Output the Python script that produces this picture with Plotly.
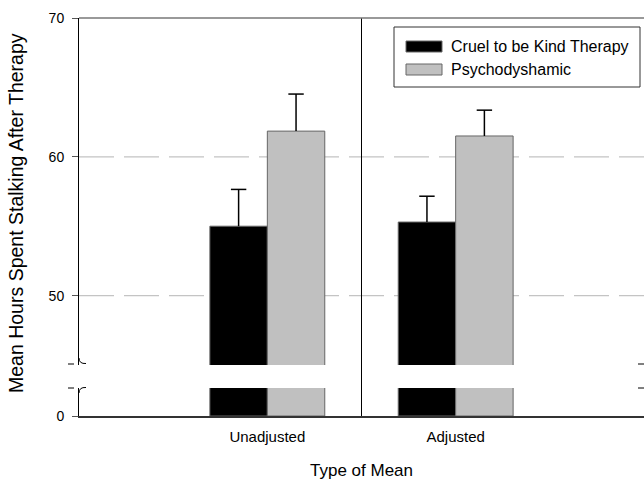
import plotly.graph_objects as go

# Data
categories = ["Unadjusted", "Adjusted"]
series_names = ["Cruel to be Kind Therapy", "Psychodyshamic"]
means_cruel = [55.0, 55.3]
means_psycho = [61.85, 61.5]
se_cruel = [2.65, 1.86]
se_psycho = [2.67, 1.86]
upper_ticks = [50, 60, 70]
lower_ticks = [0]

FILLS = ["#000000", "#c0c0c0"]
EDGES = ["#666666", "#666666"]
FONT = "Liberation Sans, Arial, sans-serif"
BAR_W = 0.305

# Canvas geometry (pixels)
W, H = 644, 484
L, R, T, B = 79, 0, 18, 68
PW, PH = W - L - R, H - T - B


def px(x):
    return (x - L) / PW


def py(y):
    return (H - B - y) / PH


LOWER_DOMAIN = [0, py(388)]
UPPER_DOMAIN = [py(365), 1]

xpos = list(range(len(categories)))
offsets = [-BAR_W, 0.0]

fig = go.Figure()
series = [(means_cruel, se_cruel), (means_psycho, se_psycho)]
for i, (name, (m, se)) in enumerate(zip(series_names, series)):
    for yax in ["y2", "y"]:
        fig.add_trace(go.Bar(
            x=xpos, y=m, name=name, xaxis="x", yaxis=yax,
            width=BAR_W, offset=offsets[i], showlegend=False,
            marker=dict(color=FILLS[i], line=dict(color=EDGES[i], width=1)),
        ))
    # upward-only error bars: stem plus cap
    centers = [p + offsets[i] + BAR_W / 2 for p in xpos]
    sx, sy = [], []
    for c, mv, ev in zip(centers, m, se):
        sx += [c, c, None]
        sy += [mv, mv + ev, None]
    fig.add_trace(go.Scatter(
        x=sx, y=sy, mode="lines", xaxis="x", yaxis="y2", showlegend=False,
        line=dict(color="#000000", width=1.5), hoverinfo="skip",
    ))
    fig.add_trace(go.Scatter(
        x=centers, y=[mv + ev for mv, ev in zip(m, se)], mode="markers",
        xaxis="x", yaxis="y2", showlegend=False, hoverinfo="skip",
        marker=dict(symbol="line-ew-open", size=11, color="#000000",
                    line=dict(color="#000000", width=1.5)),
    ))

shapes = []
# dashed reference lines in the upper panel
for v in [50, 60]:
    shapes.append(dict(type="line", xref="paper", yref="y2", x0=0, x1=1, y0=v, y1=v,
                       line=dict(color="#c4c4c4", width=1.2, dash="35px,10px"),
                       layer="below"))
# divider between the two groups
shapes.append(dict(type="line", xref="x", yref="paper", x0=0.5, x1=0.5, y0=0, y1=1,
                   line=dict(color="#000000", width=1)))
# top frame line
shapes.append(dict(type="line", xref="paper", yref="paper", x0=0, x1=1, y0=1, y1=1,
                   line=dict(color="#777777", width=1.5)))
# axis-break marks on the left axis
shapes.append(dict(type="path", xref="paper", yref="paper",
                   path=f"M {px(79)},{py(358)} Q {px(79)},{py(364)} {px(86)},{py(363.5)}",
                   line=dict(color="#000000", width=1)))
shapes.append(dict(type="path", xref="paper", yref="paper",
                   path=f"M {px(86)},{py(387.5)} Q {px(79)},{py(387)} {px(79)},{py(393)}",
                   line=dict(color="#000000", width=1)))
for yb in [364, 388]:
    shapes.append(dict(type="line", xref="paper", yref="paper",
                       x0=px(68), x1=px(74), y0=py(yb), y1=py(yb),
                       line=dict(color="#000000", width=1)))
    shapes.append(dict(type="line", xref="paper", yref="paper",
                       x0=px(638), x1=px(644), y0=py(yb), y1=py(yb),
                       line=dict(color="#000000", width=1)))

# legend box
shapes.append(dict(type="rect", xref="paper", yref="paper",
                   x0=px(394), x1=px(640), y0=py(87), y1=py(27),
                   line=dict(color="#333333", width=1), fillcolor="#ffffff"))
annotations = []
for i, name in enumerate(series_names):
    y0, y1 = (41, 52) if i == 0 else (64, 75)
    shapes.append(dict(type="rect", xref="paper", yref="paper",
                       x0=px(406), x1=px(442), y0=py(y1), y1=py(y0),
                       line=dict(color=EDGES[i], width=1), fillcolor=FILLS[i]))
    annotations.append(dict(text=name, xref="paper", yref="paper",
                            x=px(449), y=py((y0 + y1) / 2), xanchor="left", yanchor="middle",
                            showarrow=False, font=dict(family=FONT, size=16, color="#000000")))

annotations.append(dict(text="Mean Hours Spent Stalking After Therapy", textangle=-90,
                        xref="paper", yref="paper", x=px(16), y=py(213),
                        xanchor="center", yanchor="middle", showarrow=False,
                        font=dict(family=FONT, size=19.5, color="#000000")))

fig.update_layout(
    width=W, height=H,
    margin=dict(l=L, r=R, t=T, b=B),
    paper_bgcolor="#ffffff", plot_bgcolor="#ffffff",
    font=dict(family=FONT, size=15, color="#000000"),
    xaxis=dict(range=[-1, 2], anchor="y", domain=[0, 1],
               tickvals=xpos, ticktext=categories,
               showline=True, linecolor="#333333", linewidth=2,
               showgrid=False, zeroline=False, ticks="", ticklabelstandoff=6,
               tickfont=dict(size=15),
               title=dict(text="Type of Mean", font=dict(size=17), standoff=20)),
    yaxis=dict(domain=LOWER_DOMAIN, range=[0, 2], anchor="x",
               tickvals=lower_ticks, ticks="outside", ticklen=6, tickcolor="#555555",
               showline=True, linecolor="#000000", linewidth=1, ticklabelstandoff=5,
               showgrid=False, zeroline=False, tickfont=dict(size=14)),
    yaxis2=dict(domain=UPPER_DOMAIN, range=[45, 70], anchor="x",
                tickvals=upper_ticks, ticks="outside", ticklen=6, tickcolor="#555555",
                showline=True, linecolor="#000000", linewidth=1, ticklabelstandoff=5,
                showgrid=False, zeroline=False, tickfont=dict(size=14)),
    shapes=shapes, annotations=annotations,
)

fig.write_html("out.html")
